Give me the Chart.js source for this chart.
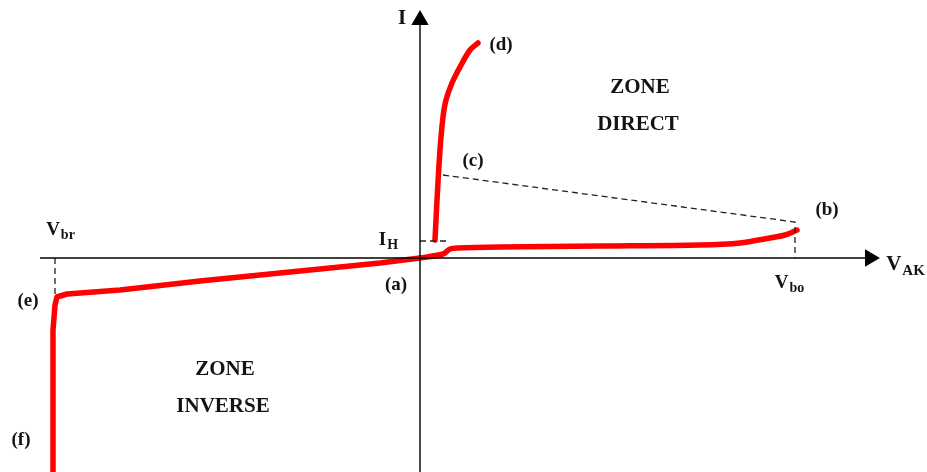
<!DOCTYPE html>
<html>
<head>
<meta charset="utf-8">
<script src="https://cdn.jsdelivr.net/npm/chart.js@4.4.1/dist/chart.umd.min.js"></script>
<style>
  html, body { margin: 0; padding: 0; background: #fff; }
  canvas { display: block; }
</style>
</head>
<body>
<canvas id="thyristorChart" width="927" height="472"></canvas>
<script>
// V-I characteristic of a thyristor (arbitrary units, origin at (a))
const reverseV = [-367, -367, -365, -363, -353, -300, -220, -120, -40, 0];
const reverseI = [-214, -72, -47, -39, -36, -32, -23, -13, -5, 0];

const forwardV = [0, 23, 30, 37, 80, 180, 280, 320, 350, 365, 377];
const forwardI = [0, 4, 9, 10, 11, 12, 13, 15, 20, 23, 28];

const onStateV = [15, 17, 20, 23, 26, 32, 40, 50, 58];
const onStateI = [18, 58, 108, 141, 158, 175, 191, 208, 215];

// dashed guides
const holdV = [0, 28];
const holdI = [17, 17];
const triggerV = [23, 375, 375];
const triggerI = [83, 36, 0];
const breakdownV = [-365, -365];
const breakdownI = [0, -38];

// axis extents
const axisMinV = -380, axisMaxV = 445;
const axisMinI = -214, axisMaxI = 240;

function pts(xs, ys) {
    return xs.map((x, i) => ({ x: x, y: ys[i] }));
}

const labels = [
    { text: 'I', x: -18, y: 239, size: 21 },
    { text: 'V', sub: 'AK', x: 485, y: -7, size: 21 },
    { text: 'V', sub: 'br', x: -360, y: 28, size: 19 },
    { text: 'V', sub: 'bo', x: 369, y: -25, size: 19 },
    { text: 'I', sub: 'H', x: -32, y: 18, size: 19 },
    { text: '(a)', x: -24, y: -27, size: 19 },
    { text: '(b)', x: 407, y: 48, size: 19 },
    { text: '(c)', x: 53, y: 97, size: 19 },
    { text: '(d)', x: 81, y: 213, size: 19 },
    { text: '(e)', x: -392, y: -43, size: 19 },
    { text: '(f)', x: -399, y: -182, size: 19 },
    { text: 'ZONE', x: 220, y: 170, size: 21 },
    { text: 'DIRECT', x: 218, y: 133, size: 21 },
    { text: 'ZONE', x: -195, y: -112, size: 21 },
    { text: 'INVERSE', x: -197, y: -149, size: 21 }
];

const textPlugin = {
    id: 'diagramText',
    afterDatasetsDraw(chart) {
        const ctx = chart.ctx;
        const xs = chart.scales.x, ys = chart.scales.y;
        ctx.save();
        ctx.fillStyle = '#141414';
        ctx.textBaseline = 'middle';
        labels.forEach(l => {
            const px = xs.getPixelForValue(l.x);
            const py = ys.getPixelForValue(l.y);
            ctx.font = 'bold ' + l.size + 'px "Liberation Serif", "Times New Roman", serif';
            if (!l.sub) {
                ctx.textAlign = 'center';
                ctx.fillText(l.text, px, py);
                return;
            }
            const subSize = Math.round(l.size * 0.72);
            const w1 = ctx.measureText(l.text).width;
            ctx.font = 'bold ' + subSize + 'px "Liberation Serif", "Times New Roman", serif';
            const w2 = ctx.measureText(l.sub).width;
            const left = px - (w1 + w2) / 2;
            ctx.textAlign = 'left';
            ctx.font = 'bold ' + l.size + 'px "Liberation Serif", "Times New Roman", serif';
            ctx.fillText(l.text, left, py);
            ctx.font = 'bold ' + subSize + 'px "Liberation Serif", "Times New Roman", serif';
            ctx.fillText(l.sub, left + w1 + 1, py + l.size * 0.3);
        });
        ctx.restore();
    }
};

const dashed = {
    borderColor: '#222',
    borderWidth: 1.3,
    borderDash: [6, 4],
    pointRadius: 0,
    showLine: true,
    fill: false
};

const red = {
    borderColor: '#ff0000',
    borderWidth: 5.5,
    borderCapStyle: 'round',
    borderJoinStyle: 'round',
    pointRadius: 0,
    showLine: true,
    fill: false
};

window.onload = function() {
    new Chart(document.getElementById('thyristorChart'), {
        type: 'scatter',
        data: {
            datasets: [
                { data: pts([axisMinV, axisMaxV], [0, 0]), borderColor: '#000', borderWidth: 1.4, pointRadius: 0, showLine: true },
                { data: pts([0, 0], [axisMinI, axisMaxI]), borderColor: '#000', borderWidth: 1.4, pointRadius: 0, showLine: true },
                { data: [{ x: 450, y: 0 }], pointStyle: 'triangle', rotation: 90, pointRadius: 10, backgroundColor: '#000', borderColor: '#000', borderWidth: 0 },
                { data: [{ x: 0, y: 238 }], pointStyle: 'triangle', rotation: 0, pointRadius: 10, backgroundColor: '#000', borderColor: '#000', borderWidth: 0 },
                Object.assign({ data: pts(holdV, holdI) }, dashed),
                Object.assign({ data: pts(triggerV, triggerI) }, dashed),
                Object.assign({ data: pts(breakdownV, breakdownI) }, dashed),
                Object.assign({ data: pts(reverseV, reverseI), tension: 0 }, red),
                Object.assign({ data: pts(forwardV, forwardI), tension: 0.3 }, red),
                Object.assign({ data: pts(onStateV, onStateI), tension: 0.3 }, red)
            ]
        },
        options: {
            responsive: false,
            animation: false,
            layout: { padding: 0, autoPadding: false },
            scales: {
                x: { type: 'linear', min: -420, max: 507, display: false },
                y: { type: 'linear', min: -214, max: 258, display: false }
            },
            plugins: {
                legend: { display: false },
                tooltip: { enabled: false }
            }
        },
        plugins: [textPlugin]
    });
};
</script>
</body>
</html>
